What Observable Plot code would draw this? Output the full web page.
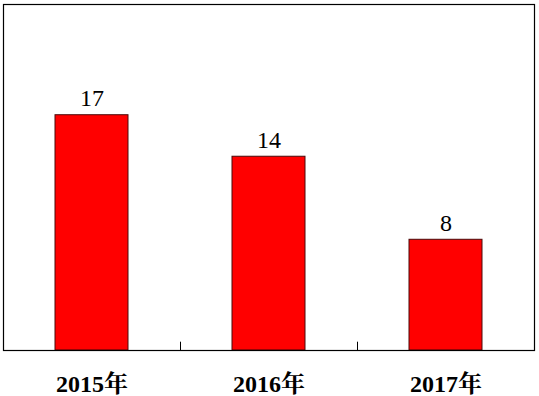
<!DOCTYPE html>
<html>
<head>
<meta charset="utf-8">
<script src="https://cdn.jsdelivr.net/npm/d3@7"></script>
<script src="https://cdn.jsdelivr.net/npm/@observablehq/plot@0.6"></script>
<style>
  html, body { margin: 0; padding: 0; background: #fff; }
</style>
</head>
<body>
<div id="chart"></div>
<script>
const categories = ["2015年", "2016年", "2017年"];
const values = [17, 14, 8];

const data = categories.map((c, i) => ({ year: c, value: values[i] }));

const W = 539, H = 396;
const mL = 3, mR = 5, mT = 4, mB = 46;
const step = (W - mL - mR) / categories.length;

const serif = "'Liberation Serif', 'Times New Roman', 'Noto Serif CJK SC', 'Noto Sans CJK SC', serif";

const chart = Plot.plot({
  width: W,
  height: H,
  marginLeft: mL,
  marginRight: mR,
  marginTop: mT,
  marginBottom: mB,
  style: { fontFamily: serif, background: "#fff", color: "#000" },
  x: { domain: categories, paddingInner: 0.59, paddingOuter: 0.295, align: 0.5 },
  y: { domain: [0, 25], axis: null },
  marks: [
    Plot.barY(data, { x: "year", y: "value", fill: "#ff0000", stroke: "#4a0a0a", strokeWidth: 1 }),
    Plot.text(data, { x: "year", y: "value", text: d => String(d.value), lineAnchor: "bottom", dy: -9, fontSize: 24, fill: "#000" }),
    Plot.ruleX(categories.slice(1), { x: d => d, dx: -step / 2, y1: 0, y2: 0.6, stroke: "#000", strokeWidth: 1 }),
    Plot.frame({ stroke: "#000", strokeWidth: 1.2 }),
    Plot.axisX({ tickSize: 0, tickPadding: 24, fontSize: 24, fontWeight: "bold", label: null, fill: "#000" })
  ]
});

document.getElementById("chart").appendChild(chart);
</script>
</body>
</html>
